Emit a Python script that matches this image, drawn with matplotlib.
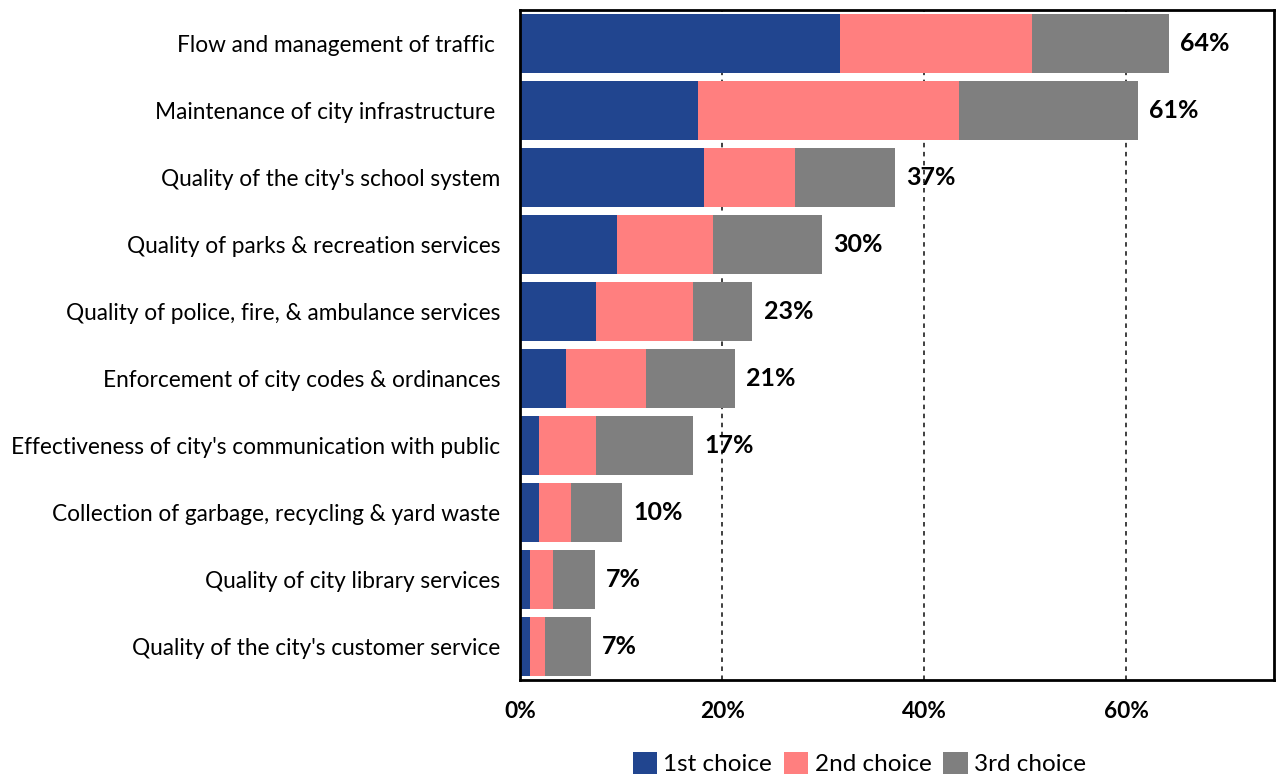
import matplotlib
matplotlib.use("Agg")
import matplotlib.pyplot as plt
from matplotlib.ticker import FuncFormatter

plt.rcParams['font.family'] = ['Lato', 'DejaVu Sans']

categories = [
    "Flow and management of traffic ",
    "Maintenance of city infrastructure ",
    "Quality of the city's school system",
    "Quality of parks & recreation services",
    "Quality of police, fire, & ambulance services",
    "Enforcement of city codes & ordinances",
    "Effectiveness of city's communication with public",
    "Collection of garbage, recycling & yard waste",
    "Quality of city library services",
    "Quality of the city's customer service",
]
first_choice = [31.7, 17.6, 18.2, 9.6, 7.5, 4.6, 1.9, 1.9, 1.0, 1.0]
second_choice = [19.0, 25.8, 9.0, 9.5, 9.6, 7.9, 5.6, 3.1, 2.3, 1.5]
third_choice = [13.5, 17.7, 9.9, 10.8, 5.9, 8.8, 9.6, 5.1, 4.1, 4.5]
series_names = ["1st choice", "2nd choice", "3rd choice"]
colors = ["#21458f", "#ff7f7f", "#7f7f7f"]

fig = plt.figure(figsize=(12.76, 7.79), dpi=100)
ax = fig.add_axes([0.4075, 0.127, 0.591, 0.86])

y = list(range(len(categories)))
left = [0.0] * len(categories)
for name, vals, col in zip(series_names, [first_choice, second_choice, third_choice], colors):
    ax.barh(y, vals, left=left, height=0.87, color=col, label=name, zorder=2)
    left = [l + v for l, v in zip(left, vals)]

# totals at the end of each bar
for yi, total in zip(y, left):
    ax.text(total + 1.1, yi, f"{round(total):.0f}%", va="center", ha="left",
            fontsize=18, fontweight="bold", color="black")

ax.set_yticks(y)
ax.set_yticklabels(categories, fontsize=16.3)
ax.set_ylim(len(categories) - 0.5, -0.5)
ax.set_xlim(0, 74.6)
ax.set_xticks([0, 20, 40, 60])
ax.xaxis.set_major_formatter(FuncFormatter(lambda v, p: f"{v:.0f}%"))
for lab in ax.get_xticklabels():
    lab.set_fontweight("bold")
    lab.set_fontsize(16.3)
ax.tick_params(axis="y", length=0, pad=14)
ax.tick_params(axis="x", length=0, pad=15)
ax.grid(axis="x", linestyle=(0, (2.5, 2.5)), color="#303030", linewidth=1.3, zorder=0)
for sp in ax.spines.values():
    sp.set_linewidth(2)
    sp.set_color("black")

ax.legend(loc="center", bbox_to_anchor=(0.45, -0.125), ncol=3, frameon=False,
          fontsize=17.5, handlelength=1.0, handleheight=1.0, handletextpad=0.25,
          columnspacing=0.5, borderpad=0.1)

fig.savefig("out.png", dpi=100)
